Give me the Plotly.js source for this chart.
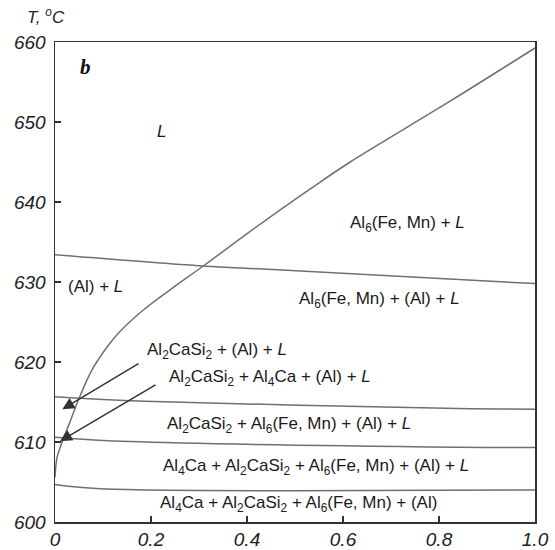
<!DOCTYPE html>
<html>
<head>
<meta charset="utf-8">
<script src="https://cdn.plot.ly/plotly-3.0.1.min.js"></script>
<style>html,body{margin:0;padding:0;background:#fff;}</style>
</head>
<body>
<div id="chart" style="width:555px;height:550px;"></div>
<script>
// Liquidus of Al6(Fe,Mn)
const liqFeMnX = [0, 0.004, 0.010, 0.019, 0.030, 0.047, 0.076, 0.104, 0.132, 0.184, 0.253, 0.309, 0.406, 0.531, 0.615, 0.823, 1.0];
const liqFeMnY = [605.6, 608.0, 609.2, 610.7, 612.3, 615.0, 618.9, 621.5, 623.6, 626.5, 629.6, 632.0, 636.3, 641.6, 645.0, 652.6, 659.25];
// (Al) liquidus
const liqAlX = [0, 0.308, 0.406, 1.0];
const liqAlY = [633.4, 632.0, 631.7, 629.8];
// Al2CaSi2 line
const lineBX = [0, 0.1875, 0.84, 1.0];
const lineBY = [615.66, 615.1, 614.2, 614.1];
// Al4Ca line
const lineCX = [0, 0.156, 0.84, 1.0];
const lineCY = [610.6, 610.05, 609.35, 609.3];
// Solidus
const lineDX = [0, 0.05, 0.15, 0.5, 1.0];
const lineDY = [604.7, 604.35, 604.05, 603.9, 604.0];

// Phase region labels
const labelText = [
  "<i>L</i>",
  "Al<sub>6</sub>(Fe, Mn) + <i>L</i>",
  "(Al) + <i>L</i>",
  "Al<sub>6</sub>(Fe, Mn) + (Al) + <i>L</i>",
  "Al<sub>2</sub>CaSi<sub>2</sub> + (Al) + <i>L</i>",
  "Al<sub>2</sub>CaSi<sub>2</sub> + Al<sub>4</sub>Ca + (Al) + <i>L</i>",
  "Al<sub>2</sub>CaSi<sub>2</sub> + Al<sub>6</sub>(Fe, Mn) + (Al) + <i>L</i>",
  "Al<sub>4</sub>Ca + Al<sub>2</sub>CaSi<sub>2</sub> + Al<sub>6</sub>(Fe, Mn) + (Al) + <i>L</i>",
  "Al<sub>4</sub>Ca + Al<sub>2</sub>CaSi<sub>2</sub> + Al<sub>6</sub>(Fe, Mn) + (Al)"
];
const labelX = [0.222, 0.611, 0.022, 0.5035, 0.1875, 0.234, 0.229, 0.220, 0.215];
const labelY = [648.8, 637.3, 629.4, 627.75, 621.4, 617.96, 612.1, 606.9, 602.3];

// Arrows (tail -> head)
const arrowTailX = [0.177, 0.2125];
const arrowTailY = [619.9, 617.25];
const arrowHeadX = [0.0153, 0.0104];
const arrowHeadY = [614.1, 610.1];

// Ticks
const xTickVals = [0, 0.2, 0.4, 0.6, 0.8, 1.0];
const xTickText = ["0", "0.2", "0.4", "0.6", "0.8", "1.0"];
const yTickVals = [600, 610, 620, 630, 640, 650, 660];
const yTickText = ["600", "610", "620", "630", "640", "650", "660"];

const italic = s => "<i>" + s + "</i>";

const lineStyle = {color: "#707070", width: 1.5, shape: "spline", smoothing: 1};
const traces = [
  {x: liqFeMnX, y: liqFeMnY, mode: "lines", line: lineStyle, hoverinfo: "skip"},
  {x: liqAlX, y: liqAlY, mode: "lines", line: lineStyle, hoverinfo: "skip"},
  {x: lineBX, y: lineBY, mode: "lines", line: lineStyle, hoverinfo: "skip"},
  {x: lineCX, y: lineCY, mode: "lines", line: lineStyle, hoverinfo: "skip"},
  {x: lineDX, y: lineDY, mode: "lines", line: lineStyle, hoverinfo: "skip"}
];

const labelFont = {family: "Liberation Sans, Arial, sans-serif", size: 17, color: "#1a1a1a"};
const annotations = [];
for (let i = 0; i < labelText.length; i++) {
  annotations.push({
    x: labelX[i], y: labelY[i], xref: "x", yref: "y",
    text: labelText[i], showarrow: false,
    xanchor: i === 0 ? "center" : "left", yanchor: "middle",
    font: labelFont
  });
}
for (let i = 0; i < arrowTailX.length; i++) {
  annotations.push({
    x: arrowHeadX[i], y: arrowHeadY[i], xref: "x", yref: "y",
    ax: arrowTailX[i], ay: arrowTailY[i], axref: "x", ayref: "y",
    text: "", showarrow: true, arrowhead: 2, arrowsize: 1.6, arrowwidth: 1.5,
    arrowcolor: "#333", standoff: 0
  });
}
annotations.push({
  x: 0.0625, y: 656.9, xref: "x", yref: "y", text: "<b><i>b</i></b>", showarrow: false,
  xanchor: "center", yanchor: "middle",
  font: {family: "Liberation Serif, Times New Roman, serif", size: 21, color: "#111"}
});
annotations.push({
  x: -0.0625, y: 1.054, xref: "paper", yref: "paper", text: "<i>T, <sup>o</sup>C</i>", showarrow: false,
  xanchor: "left", yanchor: "middle",
  font: {family: "Liberation Sans, Arial, sans-serif", size: 17, color: "#222"}
});

const axisFont = {family: "Liberation Sans, Arial, sans-serif", size: 19, color: "#222"};
const layout = {
  width: 555, height: 550,
  margin: {l: 55, r: 20, t: 42, b: 28},
  paper_bgcolor: "#fff", plot_bgcolor: "#fff",
  showlegend: false,
  xaxis: {
    range: [0, 1], tickvals: xTickVals, ticktext: xTickText.map(italic),
    ticks: "inside", ticklen: 6, tickwidth: 1.2, tickcolor: "#333",
    showline: true, linecolor: "#333", linewidth: 1.5, mirror: true,
    showgrid: false, zeroline: false, tickfont: axisFont, fixedrange: true
  },
  yaxis: {
    range: [600, 660], tickvals: yTickVals, ticktext: yTickText.map(italic),
    ticks: "inside", ticklen: 6, tickwidth: 1.2, tickcolor: "#333",
    showline: true, linecolor: "#333", linewidth: 1.5, mirror: true,
    showgrid: false, zeroline: false, tickfont: axisFont, fixedrange: true,
    ticklabelstandoff: 4
  },
  annotations: annotations
};

Plotly.newPlot("chart", traces, layout, {displayModeBar: false, staticPlot: true});
</script>
</body>
</html>
